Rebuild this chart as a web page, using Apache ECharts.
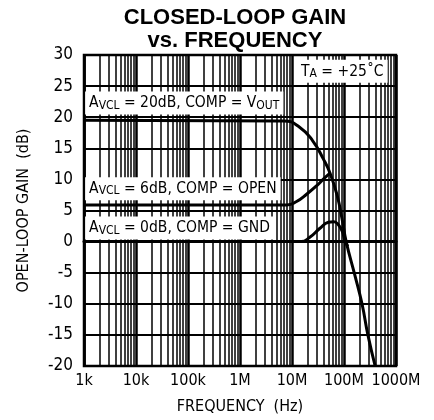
<!DOCTYPE html>
<html>
<head>
<meta charset="utf-8">
<script src="https://cdn.jsdelivr.net/npm/echarts@6/dist/echarts.min.js"></script>
<style>
  html, body { margin: 0; padding: 0; background: #fff; }
  #main { width: 434px; height: 420px; }
</style>
</head>
<body>
<div id="main"></div>
<script>
// tick labels for the frequency axis (1k .. 1000M)
const freqTicks = ['1k', '10k', '100k', '1M', '10M', '100M', '1000M'];

// [frequency Hz, gain dB]
const gain20 = [[1e3, 19.5], [7e6, 19.4], [14e6, 18.4], [25e6, 16.2], [40e6, 13.3], [54e6, 11.0],
  [74e6, 7.4], [92e6, 3.6], [110e6, 0], [163e6, -5.5], [222e6, -10], [288e6, -15], [397e6, -20]];
const gain6 = [[1e3, 5.9], [8e6, 5.9], [12e6, 6.4], [19.6e6, 7.7], [30e6, 9.0], [42e6, 10.2], [54e6, 11.0]];
const gain0 = [[1e3, 0], [15e6, 0], [22e6, 0.7], [34e6, 2.1], [50e6, 3.1], [64e6, 3.2],
  [78e6, 2.7], [92e6, 1.7], [104e6, 0.2], [118e6, -0.8]];

const font = '"Liberation Sans Narrow", "DejaVu Sans Condensed", sans-serif';

// minor log grid lines (2..9 in every decade)
let minorLines = [];
for (let d = 3; d < 9; d++) {
  for (let k = 2; k <= 9; k++) minorLines.push({ xAxis: k * Math.pow(10, d) });
}

const lineStyle = { color: '#000', width: 3 };
const rich = {
  a: { fontSize: 15.5, fontFamily: font, color: '#000' },
  s: { fontSize: 12, fontFamily: font, color: '#000', verticalAlign: 'bottom', padding: [4, 0, 0, 0] }
};
function note(coord, text) {
  return {
    coord: coord, symbolSize: 0,
    label: {
      show: true, position: 'right', distance: 0, formatter: text, rich: rich,
      backgroundColor: '#fff', padding: [4, 4, 3, 4]
    }
  };
}

const chart = echarts.init(document.getElementById('main'));
chart.setOption({
  animation: false,
  title: {
    text: 'CLOSED-LOOP GAIN\nvs. FREQUENCY',
    left: 235, top: 6, padding: 0, textAlign: 'center',
    textStyle: { fontSize: 22, fontWeight: 'bold', fontFamily: '"Liberation Sans", Arial, sans-serif', color: '#000', lineHeight: 23 }
  },
  grid: { left: 84, right: 38, top: 55, bottom: 53, show: true, borderColor: '#000', borderWidth: 2.5, backgroundColor: '#fff' },
  xAxis: {
    type: 'log', logBase: 10, min: 1e3, max: 1e9,
    name: 'FREQUENCY  (Hz)', nameLocation: 'middle', nameGap: 33,
    nameTextStyle: { fontSize: 16, fontFamily: font, color: '#000' },
    axisLine: { lineStyle: { color: '#000', width: 3 } },
    axisTick: { show: false },
    axisLabel: {
      color: '#000', fontSize: 16, fontFamily: font, margin: 7,
      formatter: function (v) { return freqTicks[Math.round(Math.log10(v)) - 3]; }
    },
    splitLine: { show: true, lineStyle: { color: '#000', width: 2.5 } }
  },
  yAxis: {
    type: 'value', min: -20, max: 30, interval: 5,
    name: 'OPEN-LOOP GAIN  (dB)', nameLocation: 'middle', nameGap: 52,
    nameTextStyle: { fontSize: 16, fontFamily: font, color: '#000' },
    axisLine: { show: true, lineStyle: { color: '#000', width: 2 } },
    axisTick: { show: false },
    axisLabel: { color: '#000', fontSize: 17, fontFamily: font, margin: 11 },
    splitLine: { show: true, lineStyle: { color: '#000', width: 2 } }
  },
  series: [
    {
      type: 'line', data: [], silent: true,
      markLine: {
        silent: true, symbol: 'none', label: { show: false },
        lineStyle: { color: '#000', width: 1.5, type: 'solid' },
        data: minorLines, z: 1
      }
    },
    {
      name: '20dB', type: 'line', data: gain20, smooth: 0.5, showSymbol: false, lineStyle: lineStyle, z: 3,
      markPoint: {
        data: [
          note([1.05e3, 22.3], '{a|A}{s|VCL}{a| = 20dB, COMP = V}{s|OUT}'),
          note([1.25e7, 27.4], '{a|T}{s|A}{a| = +25˚C}')
        ]
      }
    },
    {
      name: '6dB', type: 'line', data: gain6, smooth: 0.5, showSymbol: false, lineStyle: lineStyle, z: 3,
      markPoint: { data: [note([1.05e3, 8.5], '{a|A}{s|VCL}{a| = 6dB, COMP = OPEN}')] }
    },
    {
      name: '0dB', type: 'line', data: gain0, smooth: 0.5, showSymbol: false, lineStyle: lineStyle, z: 3,
      markPoint: { data: [note([1.05e3, 2.2], '{a|A}{s|VCL}{a| = 0dB, COMP = GND}')] }
    }
  ]
});
</script>
</body>
</html>
